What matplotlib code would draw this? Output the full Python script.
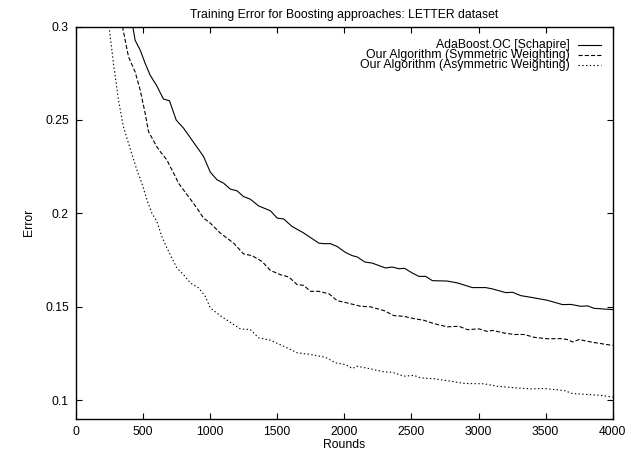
import matplotlib
matplotlib.use("Agg")
import matplotlib.pyplot as plt
from matplotlib.lines import Line2D

plt.rcParams["font.family"] = ["Liberation Sans", "DejaVu Sans"]
plt.rcParams["lines.scale_dashes"] = False

# values
x_ada = [425, 442, 480, 517, 554, 604, 653, 698, 748, 803, 865, 927, 952, 1002,
         1052, 1101, 1151, 1201, 1250, 1300, 1362, 1450, 1500, 1549, 1611, 1698,
         1810, 1847, 1897, 1947, 2009, 2059, 2096, 2153, 2208, 2307, 2357, 2407,
         2449, 2506, 2556, 2606, 2656, 2767, 2842, 2954, 3053, 3103, 3202, 3252,
         3314, 3414, 3513, 3625, 3687, 3762, 3812, 3861, 4000]
y_ada = [0.300, 0.2927, 0.2874, 0.2803, 0.274, 0.2682, 0.2612, 0.2603, 0.250,
         0.2456, 0.2393, 0.2330, 0.2304, 0.2221, 0.218, 0.2162, 0.213, 0.2121,
         0.209, 0.2076, 0.204, 0.2014, 0.1975, 0.197, 0.193, 0.1895, 0.1841,
         0.1838, 0.1838, 0.1823, 0.1791, 0.1774, 0.1767, 0.174, 0.1734, 0.1708,
         0.1713, 0.1704, 0.1706, 0.1681, 0.1663, 0.1663, 0.164, 0.1638, 0.1628,
         0.1603, 0.1603, 0.1596, 0.1576, 0.1578, 0.156, 0.1548, 0.1535, 0.1512,
         0.1513, 0.1503, 0.1505, 0.1492, 0.1485]

x_sym = [348, 368, 393, 442, 480, 517, 542, 604, 629, 679, 703, 740, 765, 840,
         903, 927, 952, 1002, 1027, 1076, 1176, 1250, 1313, 1387, 1450, 1524,
         1586, 1649, 1698, 1748, 1810, 1885, 1947, 2022, 2121, 2196, 2295, 2370,
         2444, 2518, 2593, 2668, 2767, 2854, 2917, 3003, 3066, 3103, 3190, 3265,
         3339, 3414, 3513, 3612, 3662, 3700, 3749, 3836, 4000]
y_sym = [0.300, 0.2927, 0.2838, 0.2758, 0.266, 0.2536, 0.2437, 0.2357, 0.2331,
         0.2286, 0.2251, 0.220, 0.2162, 0.209, 0.2028, 0.2001, 0.1975, 0.1948,
         0.193, 0.1895, 0.1841, 0.1783, 0.1774, 0.1743, 0.1695, 0.1672, 0.166,
         0.1619, 0.1615, 0.1583, 0.1583, 0.157, 0.1533, 0.1521, 0.1503, 0.150,
         0.148, 0.1453, 0.1449, 0.1437, 0.1428, 0.141, 0.1393, 0.1396, 0.1378,
         0.1382, 0.1368, 0.1374, 0.136, 0.1352, 0.1352, 0.1337, 0.1329, 0.133,
         0.1325, 0.1312, 0.1325, 0.1312, 0.1293]

x_asym = [248, 281, 318, 355, 410, 455, 492, 530, 567, 604, 641, 679, 716, 753,
          803, 853, 915, 965, 1002, 1076, 1176, 1226, 1300, 1362, 1450, 1549,
          1649, 1748, 1860, 1934, 2009, 2059, 2096, 2196, 2295, 2357, 2444, 2518,
          2568, 2668, 2792, 2892, 3041, 3140, 3265, 3389, 3488, 3637, 3700, 3812,
          3911, 4000]
y_asym = [0.300, 0.2803, 0.2607, 0.2464, 0.2335, 0.2233, 0.2162, 0.2073, 0.2001,
          0.1957, 0.1877, 0.1815, 0.1761, 0.1708, 0.1672, 0.1628, 0.1601, 0.1556,
          0.1494, 0.1453, 0.1405, 0.1382, 0.1378, 0.1334, 0.1321, 0.1289, 0.1254,
          0.1245, 0.123, 0.120, 0.1191, 0.117, 0.1182, 0.1168, 0.1152, 0.115,
          0.1129, 0.1133, 0.112, 0.1115, 0.1102, 0.109, 0.1088, 0.1075, 0.1067,
          0.1061, 0.1063, 0.1052, 0.1036, 0.1031, 0.1026, 0.1017]

labels = ["AdaBoost.OC [Schapire]",
          "Our Algorithm (Symmetric Weighting)",
          "Our Algorithm (Asymmetric Weighting)"]
styles = ["-", (0, (3, 1.5)), (0, (1, 1.7))]

fig = plt.figure(figsize=(6.26, 4.5), dpi=100)
ax = fig.add_axes([0.121, 0.069, 0.858, 0.872])

series = [(x_ada, y_ada), (x_sym, y_sym), (x_asym, y_asym)]
for (xs, ys), ls in zip(series, styles):
    ax.plot(xs, ys, color="black", linestyle=ls, linewidth=0.8)

ax.set_xlim(0, 4000)
ax.set_ylim(0.09, 0.3)
ax.set_xticks(range(0, 4001, 500))
ax.set_yticks([0.1, 0.15, 0.2, 0.25, 0.3])
ax.set_yticklabels(["0.1", "0.15", "0.2", "0.25", "0.3"])
ax.tick_params(direction="in", length=4, width=0.8, top=True, right=True,
               labelsize=8.8, pad=5)
for s in ax.spines.values():
    s.set_linewidth(1.0)

ax.set_title("Training Error for Boosting approaches: LETTER dataset",
             fontsize=8.8, pad=6)
ax.set_xlabel("Rounds", fontsize=8.8, labelpad=1)
ax.set_ylabel("Error", fontsize=8.8, labelpad=7)

# gnuplot-style key: right-aligned text, line sample after it
rows = [0.9526, 0.9272, 0.9017]
for lab, ls, yy in zip(labels, styles, rows):
    ax.text(0.9205, yy, lab, transform=ax.transAxes, ha="right", va="center",
            fontsize=8.8)
    ax.add_line(Line2D([0.936, 0.977], [yy, yy], transform=ax.transAxes,
                       color="black", linestyle=ls, linewidth=0.8))

fig.savefig("out.png", dpi=100)
